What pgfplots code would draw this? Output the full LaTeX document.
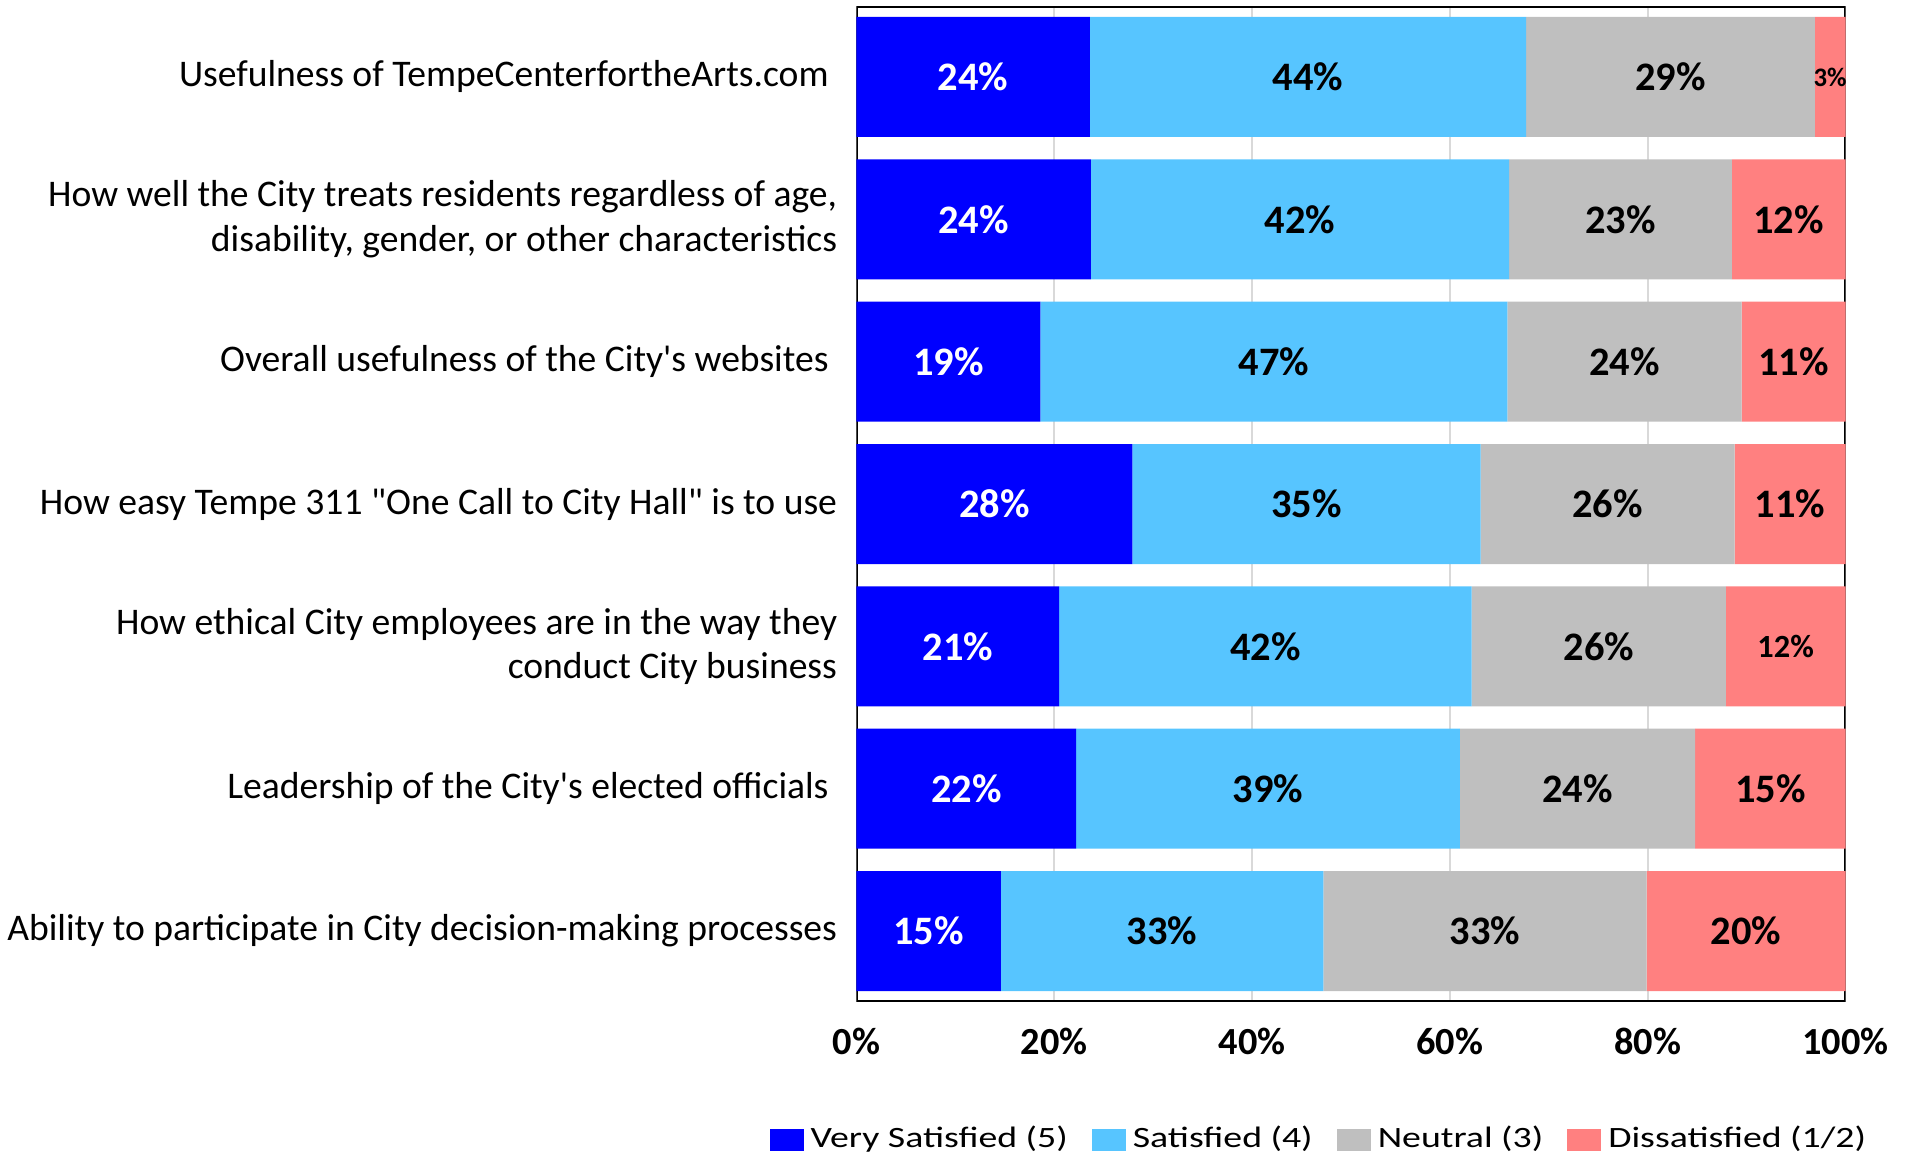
\documentclass[border=0pt]{standalone}
\usepackage{pgfplots}
\pgfplotsset{compat=1.18}
\usepackage{fontspec}
\setmainfont{Carlito}[Ligatures=TeXOff]
\newfontfamily\legendfont[FakeStretch=1.28]{Carlito}
\definecolor{vsat}{HTML}{0000FF}
\definecolor{sat}{HTML}{57C5FF}
\definecolor{neu}{HTML}{BFBFBF}
\definecolor{dis}{HTML}{FF8080}
\newcommand\smA{\fontsize{9.2}{10}\selectfont}
\newcommand\smB{\fontsize{7.6}{9}\selectfont}
\begin{document}
\begin{tikzpicture}
\useasboundingbox (0,0) rectangle (19.13,11.59);
\begin{axis}[
  at={(8.565cm,11.525cm)}, anchor=north west,
  scale only axis, width=9.89cm, height=9.95cm,
  xbar stacked, bar width=0.843,
  xmin=0, xmax=100, ymin=0.505, ymax=7.495,
  xtick={0,20,40,60,80,100},
  xticklabels={0\%,20\%,40\%,60\%,80\%,100\%},
  xticklabel style={font=\fontsize{10.9}{12}\selectfont\bfseries, yshift=-4pt},
  ytick={1,2,3,4,5,6,7},
  yticklabels={
    Ability to participate in City decision-making processes,
    Leadership of the City's elected officials\ ,
    {How ethical City employees are in the way they\\conduct City business},
    How easy Tempe 311 "One Call to City Hall" is to use,
    Overall usefulness of the City's websites\ ,
    {How well the City treats residents regardless of age,\\disability, gender, or other characteristics},
    Usefulness of TempeCenterfortheArts.com\ },
  yticklabel style={font=\fontsize{10.7}{12.6}\selectfont, align=right, xshift=-2pt},
  major tick length=0pt,
  xmajorgrids, major grid style={draw=black!15, line width=0.5pt},
  axis line style={draw=none},
  nodes near coords={\pgfplotspointmeta\%},
  point meta=explicit symbolic,
  every node near coord/.append style={anchor=center, font=\fontsize{11.5}{13}\selectfont\bfseries},
  legend columns=4,
  legend style={at={(axis description cs:0.47,-0.139)}, anchor=center, draw=none, fill=none,
    font=\legendfont\fontsize{8.4}{10}\selectfont,
    /tikz/every even column/.append style={column sep=0.17cm}},
  legend image code/.code={\fill[#1] (0cm,-0.11cm) rectangle (0.34cm,0.11cm);},
]
\addplot[fill=vsat, draw=none, every node near coord/.append style={text=white}] coordinates {
  (14.6,1) [15] (22.2,2) [22] (20.5,3) [21] (27.9,4) [28] (18.6,5) [19] (23.7,6) [24] (23.6,7) [24]};
\addplot[fill=sat, draw=none, every node near coord/.append style={text=black}] coordinates {
  (32.6,1) [33] (38.8,2) [39] (41.7,3) [42] (35.2,4) [35] (47.2,5) [47] (42.3,6) [42] (44.1,7) [44]};
\addplot[fill=neu, draw=none, every node near coord/.append style={text=black}] coordinates {
  (32.7,1) [33] (23.8,2) [24] (25.7,3) [26] (25.7,4) [26] (23.7,5) [24] (22.5,6) [23] (29.2,7) [29]};
\addplot[fill=dis, draw=none, every node near coord/.append style={text=black}] coordinates {
  (20.1,1) [20] (15.2,2) [15] (12.1,3) [\smA 12] (11.2,4) [11] (10.5,5) [11] (11.5,6) [12] (3.1,7) [\smB 3]};
\legend{Very Satisfied (5), Satisfied (4), Neutral (3), Dissatisfied (1/2)}
\draw[line width=0.85pt] (rel axis cs:0,0) rectangle (rel axis cs:1,1);
\end{axis}
\end{tikzpicture}
\end{document}
